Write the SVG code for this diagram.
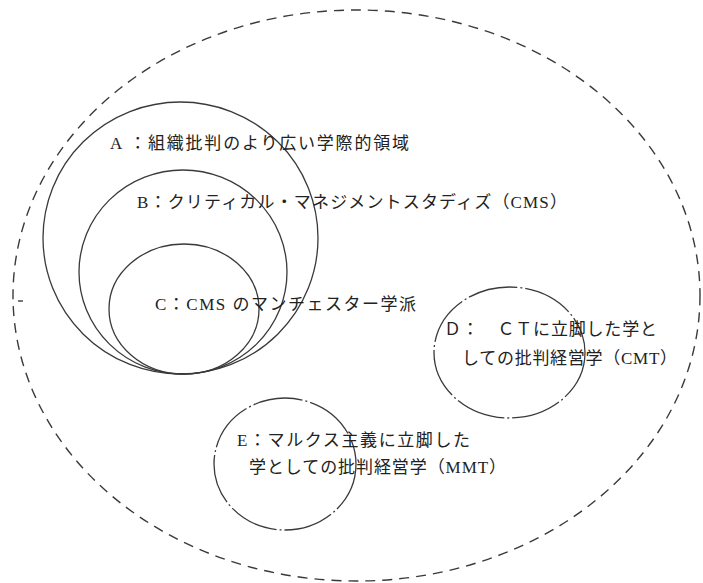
<svg xmlns="http://www.w3.org/2000/svg" width="703" height="583" viewBox="0 0 703 583">
<style>
.solid{fill:none;stroke:#3a3a3a;stroke-width:1.3}
.outer{fill:none;stroke:#3a3a3a;stroke-width:1.4;stroke-dasharray:10 7}
.broken{fill:none;stroke:#3a3a3a;stroke-width:1.3;stroke-dasharray:50 3 2 3}
.t{font-family:"Liberation Serif","Noto Sans CJK JP",serif;font-size:17px;fill:#222}
</style>
<rect width="703" height="583" fill="#fff"/>
<g id="outer">
<ellipse class="outer" cx="356.5" cy="295.5" rx="343.5" ry="285.5"/>
<line x1="18" y1="301" x2="23" y2="301" stroke="#3a3a3a" stroke-width="1.4"/>
</g>
<g id="nodeA">
<ellipse class="solid" cx="180.5" cy="238" rx="137.5" ry="136"/>
<text class="t" x="110" y="149" textLength="299" lengthAdjust="spacing">A ：組織批判のより広い学際的領域</text>
</g>
<g id="nodeB">
<ellipse class="solid" cx="183" cy="272" rx="104" ry="102"/>
<text class="t" x="137" y="208" textLength="430" lengthAdjust="spacing">B：クリティカル・マネジメントスタディズ（CMS）</text>
</g>
<g id="nodeC">
<ellipse class="solid" cx="184" cy="309" rx="75" ry="65"/>
<text class="t" x="155" y="310" textLength="261" lengthAdjust="spacing">C：CMS のマンチェスター学派</text>
</g>
<g id="nodeD">
<ellipse class="broken" cx="509.5" cy="352.5" rx="75.5" ry="65.5"/>
<text class="t" x="444" y="335" textLength="213" lengthAdjust="spacing">Ｄ：　ＣＴに立脚した学と</text>
<text class="t" x="462" y="364" textLength="215" lengthAdjust="spacing">しての批判経営学（CMT）</text>
</g>
<g id="nodeE">
<ellipse class="broken" cx="285" cy="464" rx="71" ry="66"/>
<text class="t" x="237" y="446" textLength="233" lengthAdjust="spacing">E：マルクス主義に立脚した</text>
<text class="t" x="249" y="473" textLength="257" lengthAdjust="spacing">学としての批判経営学（MMT）</text>
</g>
<g id="connectors"></g>
</svg>
